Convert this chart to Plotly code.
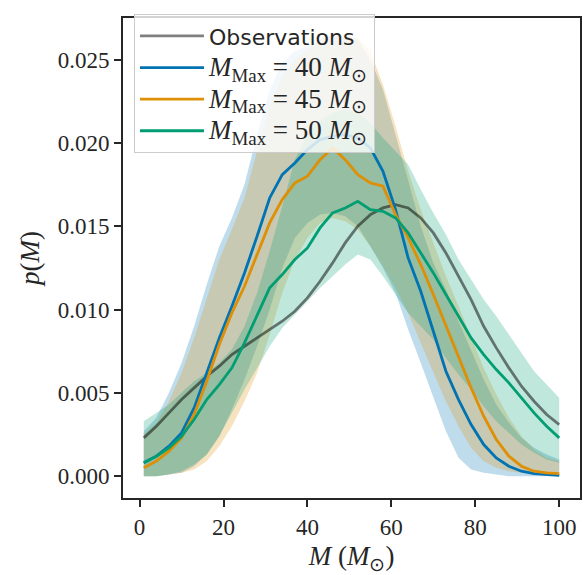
import plotly.graph_objects as go

# ---- data ----
mass = [1, 4, 7, 10, 13, 16, 19, 22, 25, 28, 31, 34, 37, 40, 43, 46, 49, 52, 55, 58,
        61, 64, 67, 70, 73, 76, 79, 82, 85, 88, 91, 94, 97, 100]

obs = [0.0023, 0.0030, 0.0038, 0.0046, 0.0053, 0.0060, 0.0066, 0.0073, 0.0078, 0.0083,
       0.0088, 0.0093, 0.0099, 0.0107, 0.0117, 0.0128, 0.0140, 0.0150, 0.0157, 0.0161,
       0.0163, 0.0161, 0.0155, 0.0146, 0.0134, 0.0120, 0.0106, 0.0090, 0.0077, 0.0065,
       0.0054, 0.0045, 0.0037, 0.0031]

m40 = [0.0008, 0.0012, 0.0018, 0.0026, 0.0041, 0.0062, 0.0083, 0.0102, 0.0122, 0.0144,
       0.0167, 0.0181, 0.0188, 0.0196, 0.0202, 0.0204, 0.0205, 0.0203, 0.0197, 0.0183,
       0.0160, 0.0131, 0.0111, 0.0087, 0.0063, 0.0046, 0.0031, 0.0019, 0.0011, 0.0006,
       0.0003, 0.00015, 0.0001, 0.00005]
m40_lo = [0.0, 0.0, 0.0001, 0.0002, 0.0006, 0.0013, 0.0024, 0.0040, 0.0058, 0.0078,
          0.0100, 0.0125, 0.0143, 0.0152, 0.0157, 0.0158, 0.0156, 0.0150, 0.0138, 0.0125,
          0.0110, 0.0088, 0.0068, 0.0047, 0.0027, 0.0011, 0.0004, 0.0002, 0.0001, 0.0,
          0.0, 0.0, 0.0, 0.0]
m40_hi = [0.0027, 0.0035, 0.0050, 0.0068, 0.0090, 0.0115, 0.0138, 0.0155, 0.0175, 0.0205,
          0.0232, 0.0248, 0.0255, 0.0258, 0.0262, 0.0265, 0.0264, 0.0262, 0.0250, 0.0232,
          0.0205, 0.0178, 0.0150, 0.0128, 0.0112, 0.0093, 0.0075, 0.0058, 0.0043, 0.0032,
          0.0023, 0.0017, 0.0013, 0.0010]

m45 = [0.0005, 0.0009, 0.0015, 0.0023, 0.0037, 0.0057, 0.0079, 0.0098, 0.0114, 0.0133,
       0.0152, 0.0166, 0.0176, 0.0180, 0.0190, 0.0197, 0.0190, 0.0181, 0.0176, 0.0174,
       0.0157, 0.0143, 0.0127, 0.0109, 0.0090, 0.0071, 0.0053, 0.0036, 0.0022, 0.0012,
       0.0006, 0.0003, 0.0002, 0.00015]
m45_lo = [0.0, 0.0, 0.0001, 0.0002, 0.0004, 0.0009, 0.0018, 0.0030, 0.0045, 0.0062,
          0.0085, 0.0110, 0.0130, 0.0143, 0.0152, 0.0155, 0.0153, 0.0148, 0.0138, 0.0126,
          0.0113, 0.0098, 0.0080, 0.0063, 0.0045, 0.0030, 0.0017, 0.0009, 0.0005, 0.0003,
          0.0002, 0.0001, 0.0001, 0.0]
m45_hi = [0.0025, 0.0032, 0.0045, 0.0062, 0.0083, 0.0107, 0.0130, 0.0148, 0.0167, 0.0195,
          0.0222, 0.0240, 0.0250, 0.0256, 0.0262, 0.0264, 0.0265, 0.0263, 0.0255, 0.0235,
          0.0210, 0.0183, 0.0160, 0.0140, 0.0120, 0.0102, 0.0083, 0.0065, 0.0049, 0.0035,
          0.0024, 0.0016, 0.0011, 0.0009]

m50 = [0.0008, 0.0012, 0.0017, 0.0024, 0.0034, 0.0046, 0.0055, 0.0065, 0.0080, 0.0097,
       0.0113, 0.0121, 0.0130, 0.0137, 0.0149, 0.0158, 0.0161, 0.0165, 0.0160, 0.0159,
       0.0155, 0.0146, 0.0134, 0.0122, 0.0109, 0.0096, 0.0083, 0.0073, 0.0064, 0.0056,
       0.0047, 0.0038, 0.0030, 0.0023]
m50_lo = [0.0, 0.0, 0.0001, 0.0003, 0.0007, 0.0013, 0.0024, 0.0038, 0.0052, 0.0065,
          0.0078, 0.0089, 0.0097, 0.0105, 0.0113, 0.0120, 0.0127, 0.0133, 0.0130, 0.0120,
          0.0109, 0.0098, 0.0090, 0.0082, 0.0071, 0.0061, 0.0052, 0.0042, 0.0033, 0.0026,
          0.0019, 0.0014, 0.0010, 0.0008]
m50_hi = [0.0033, 0.0038, 0.0043, 0.0050, 0.0057, 0.0062, 0.0068, 0.0076, 0.0090, 0.0110,
          0.0135, 0.0162, 0.0190, 0.0205, 0.0213, 0.0218, 0.0220, 0.0218, 0.0212, 0.0203,
          0.0195, 0.0187, 0.0172, 0.0158, 0.0145, 0.0130, 0.0118, 0.0106, 0.0096, 0.0085,
          0.0074, 0.0063, 0.0055, 0.0047]

x_ticks = [0, 20, 40, 60, 80, 100]
y_ticks = [0.0, 0.005, 0.010, 0.015, 0.020, 0.025]

labels = ["Observations",
          "<i>M</i><sub>Max</sub> = 40 <i>M</i><sub>⊙</sub>",
          "<i>M</i><sub>Max</sub> = 45 <i>M</i><sub>⊙</sub>",
          "<i>M</i><sub>Max</sub> = 50 <i>M</i><sub>⊙</sub>"]

BLUE = (1, 115, 178)
ORANGE = (222, 143, 5)
GREEN = (2, 158, 115)

def rgba(c, a):
    return f"rgba({c[0]},{c[1]},{c[2]},{a})"

fig = go.Figure()

# bands
for lo, hi, col in [(m40_lo, m40_hi, BLUE), (m45_lo, m45_hi, ORANGE), (m50_lo, m50_hi, GREEN)]:
    fig.add_trace(go.Scatter(x=mass, y=lo, mode="lines", line=dict(width=0),
                             showlegend=False, hoverinfo="skip"))
    fig.add_trace(go.Scatter(x=mass, y=hi, mode="lines", line=dict(width=0),
                             fill="tonexty", fillcolor=rgba(col, 0.25),
                             showlegend=False, hoverinfo="skip"))

serif = "Liberation Serif"
sans = "DejaVu Sans"

fig.add_trace(go.Scatter(x=mass, y=obs, mode="lines", name=labels[0], legendgroup="g0",
                         line=dict(color="rgba(0,0,0,0.5)", width=2.8)))
for i, (vals, col, lab) in enumerate([(m40, BLUE, labels[1]), (m45, ORANGE, labels[2]),
                                      (m50, GREEN, labels[3])]):
    fig.add_trace(go.Scatter(x=mass, y=vals, mode="lines", legendgroup=f"g{i+1}",
                             name=f'<span style="font-family:{serif};font-size:27px">{lab}</span>',
                             line=dict(color=rgba(col, 1), width=2.8)))

axis_common = dict(showline=True, mirror=True, linecolor="#262626", linewidth=2,
                   ticks="outside", ticklen=7, tickwidth=2, tickcolor="#262626",
                   showgrid=False, zeroline=False,
                   tickfont=dict(family=serif, size=23, color="#262626"))

fig.update_layout(
    width=584, height=575,
    margin=dict(l=123, r=2, t=18, b=77),
    paper_bgcolor="white", plot_bgcolor="white",
    xaxis=dict(range=[-3.95, 104.95], tickvals=x_ticks,
               title=dict(text="<i>M</i> (<i>M</i><sub>⊙</sub>)",
                          font=dict(family=serif, size=27, color="#262626"), standoff=8),
               **axis_common),
    yaxis=dict(range=[-0.00131, 0.0275], tickvals=y_ticks, tickformat=".3f",
               title=dict(text="<i>p</i>(<i>M</i>)",
                          font=dict(family=serif, size=27, color="#262626"), standoff=10),
               **axis_common),
    legend=dict(x=0.024, y=1.008, xanchor="left", yanchor="top",
                bgcolor="rgba(255,255,255,0.8)", bordercolor="#cccccc", borderwidth=1,
                font=dict(family=sans, size=22, color="#262626"),
                traceorder="grouped", tracegroupgap=0, itemwidth=64),
    showlegend=True,
)

fig.write_html("out.html", config={"displayModeBar": False},
               post_script="document.body.style.margin='0';document.body.style.overflow='hidden';")
